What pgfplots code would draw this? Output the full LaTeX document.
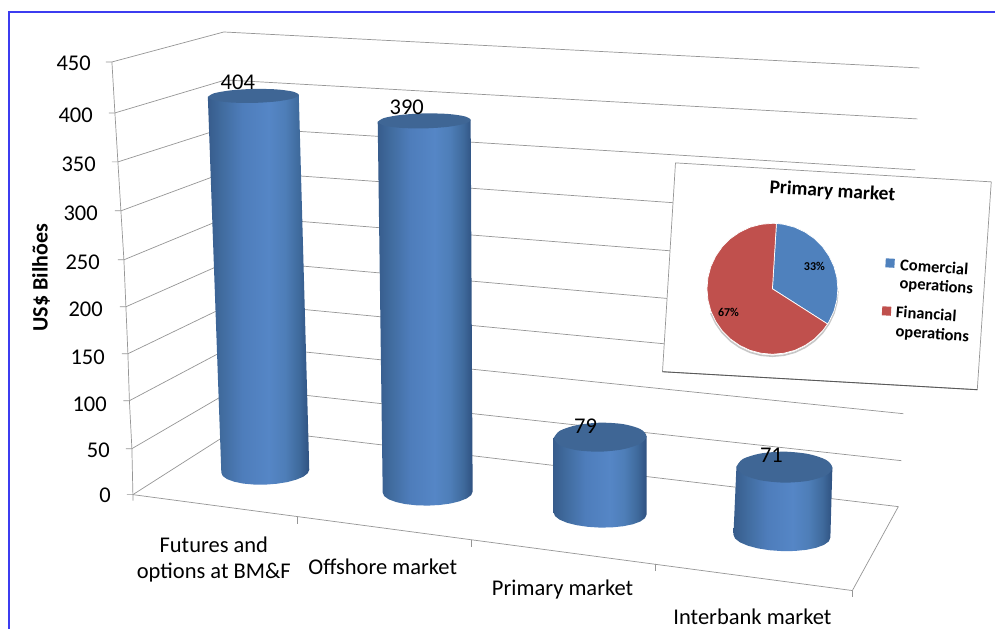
\documentclass[border=0pt]{standalone}
\usepackage{pgfplots}
\pgfplotsset{compat=1.18}
\usepackage{fontspec}
\setmainfont{Carlito}
\definecolor{gridc}{HTML}{969696}
\definecolor{frameb}{HTML}{3C3CF0}
\definecolor{captop}{HTML}{3F6695}
\definecolor{pieb}{HTML}{4F81BD}
\definecolor{pier}{HTML}{C0504D}
\definecolor{cA}{HTML}{375C8C}
\definecolor{cB}{HTML}{416C9F}
\definecolor{cC}{HTML}{4E7DBB}
\definecolor{cD}{HTML}{5586C6}
\definecolor{cE}{HTML}{4E7EB8}
\definecolor{cF}{HTML}{3F6A9C}
\definecolor{cG}{HTML}{2F5180}
\pgfdeclarehorizontalshading{cyl}{100bp}{color(0bp)=(cA); color(25bp)=(cA); color(32bp)=(cB); color(42bp)=(cC); color(55bp)=(cD); color(63bp)=(cE); color(70bp)=(cF); color(75bp)=(cG); color(100bp)=(cG)}
\newcommand{\fs}[1]{\fontsize{#1}{#1}\selectfont}
\pgfplotsset{grid line/.style={gridc,line width=0.7pt},
  cyl body/.style={shade,shading=cyl,draw=none},
  cyl top/.style={fill=captop,draw=none,smooth}}
\begin{document}
\begin{tikzpicture}
\begin{axis}[width=996pt,height=629pt,scale only axis,hide axis,clip=false,
  xmin=0,xmax=996,ymin=0,ymax=629,y dir=reverse]
% canvas and frame
\addplot[fill=white,draw=none,forget plot] coordinates {(0,0)(996,0)(996,629)(0,629)} --cycle;
\addplot[frameb,line width=1.5pt] coordinates {(9,629)(9,12)(996,12)};
% floor
\addplot[grid line] coordinates {(133,495)(853,591)(899,507)};
% gridlines: left wall, back wall (0,50,...,450)
\addplot[grid line] coordinates {(127,495)(133,495)(238,428)(899,507)};
\addplot[grid line] coordinates {(126,449)(132,449)(236.6,388)(902,461)};
\addplot[grid line] coordinates {(123.5,401)(129.5,401)(235.2,345)(904,414)};
\addplot[grid line] coordinates {(122,354)(128,354)(233.7,303)(906,367)};
\addplot[grid line] coordinates {(120,307)(126,307)(232.2,260)(908,320)};
\addplot[grid line] coordinates {(118,260)(124,260)(230.6,216)(910,270)};
\addplot[grid line] coordinates {(115,211)(121,211)(229,171)(913,220)};
\addplot[grid line] coordinates {(112,162)(118,162)(227.4,127)(916,170)};
\addplot[grid line] coordinates {(109,113)(115,113)(225.7,80)(918,119)};
\addplot[grid line] coordinates {(106,62)(112,62)(224,32)(920,68)};
% value axis and category ticks
\addplot[grid line] coordinates {(112,62)(115,113)(118,162)(121,211)(124,260)(126,307)(128,354)(129.5,401)(132,449)(133,495)(133,501)};
\addplot[grid line] coordinates {(298,517)(298,524)};
\addplot[grid line] coordinates {(472,540)(472,547)};
\addplot[grid line] coordinates {(656,564)(656,571)};
\addplot[grid line] coordinates {(853,591)(853,597)};
% cylinder 404
\addplot[cyl body] coordinates {(208,97)(221.5,473)(223,476.45)(227.4,479.55)(234.4,482.06)(243.5,483.95)(254.1,484.9)(265.5,485)(276.9,484.1)(287.5,482.45)(296.6,479.94)(303.6,477)(308,473.55)(309.5,470)(299,95)} --cycle;
\addplot[cyl top] coordinates {(208,97)(214.1,100.37)(230.75,102.56)(253.5,103)(276.25,101.56)(292.9,98.63)(299,95)(292.9,91.63)(276.25,89.44)(253.5,89)(230.75,90.44)(214.1,93.37)(208,97)};
% cylinder 390
\addplot[cyl body] coordinates {(378,122)(383,493)(384.5,496.48)(389,499.68)(396.2,502.35)(405.5,504.45)(416.3,505.63)(428,506)(439.7,505.37)(450.5,503.95)(459.8,501.65)(467,498.82)(471.5,495.52)(473,492)(471,120)} --cycle;
\addplot[cyl top] coordinates {(378,122)(384.2,125.62)(401.25,128)(424.5,128.5)(447.75,127)(464.8,123.88)(471,120)(464.8,116.38)(447.75,114)(424.5,113.5)(401.25,115)(384.2,118.12)(378,122)};
% cylinder 79
\addplot[cyl body] coordinates {(554,438.5)(554,513)(555.6,516.63)(560.2,520.13)(567.6,523.19)(577.25,525.6)(588.5,527.24)(600.5,528)(612.5,527.76)(623.75,526.6)(633.4,524.61)(640.8,521.87)(645.4,518.57)(647,515)(647,436.5)} --cycle;
\addplot[cyl top] coordinates {(554,438.5)(560.2,445.62)(577.25,450.56)(600.5,452)(623.75,449.56)(640.8,443.88)(647,436.5)(640.8,429.38)(623.75,424.44)(600.5,423)(577.25,425.44)(560.2,431.12)(554,438.5)};
% cylinder 71
\addplot[cyl body] coordinates {(737,467)(734,535)(735.65,538.95)(740.5,542.7)(748.2,546.04)(758.25,548.75)(769.94,550.61)(782.5,551.5)(795.06,551.39)(806.75,550.25)(816.8,548.16)(824.5,545.3)(829.35,541.85)(831,538)(833,468)} --cycle;
\addplot[cyl top] coordinates {(737,467)(743.4,474.82)(761,480.65)(785,483)(809,481.15)(826.6,475.68)(833,468)(826.6,460.18)(809,454.35)(785,452)(761,453.85)(743.4,459.32)(737,467)};
% inset panel
\addplot[fill=white,draw=gridc,line width=0.7pt] coordinates {(676,163)(992,182)(978,390)(663,372)} --cycle;
\addplot[black!65,line width=0.9pt] coordinates {(663,372)(978,390)};
% soft edge below the pie
\addplot[black!22,line width=1.6pt] coordinates {(838.5,291)(837.5,302.4)(834.6,313.4)(829.7,323.75)(823.2,333.1)(815.1,341.2)(805.75,347.7)(795.4,352.6)(784.4,355.5)(773,356.5)(761.6,355.5)(750.6,352.6)(740.25,347.7)(730.9,341.2)(722.8,333.1)(716.3,323.75)(711.4,313.4)};
% inset pie: Comercial 33, Financial 67
\addplot[fill=pieb,draw=white,line width=0.7pt] coordinates {(773,289)(777,223.6)(784.4,224.5)(795.4,227.4)(805.75,232.3)(815.1,238.8)(823.2,246.9)(829.7,256.25)(834.6,266.6)(837.5,277.6)(838.5,289)(837.5,300.4)(834.6,311.4)(829.7,321.75)(828.2,324.2)} --cycle;
\addplot[fill=pier,draw=white,line width=0.7pt] coordinates {(773,289)(828.2,324.2)(823.2,331.1)(815.1,339.2)(805.75,345.7)(795.4,350.6)(784.4,353.5)(773,354.5)(761.6,353.5)(750.6,350.6)(740.25,345.7)(730.9,339.2)(722.8,331.1)(716.3,321.75)(711.4,311.4)(708.5,300.4)(707.5,289)(708.5,277.6)(711.4,266.6)(716.3,256.25)(722.8,246.9)(730.9,238.8)(740.25,232.3)(750.6,227.4)(761.6,224.5)(773,223.5)(777,223.6)} --cycle;
% legend keys
\addplot[fill=pieb,draw=none] coordinates {(886.5,258.5)(895.5,259)(895,268)(886,267.5)} --cycle;
\addplot[fill=pier,draw=none] coordinates {(883,306.5)(892,307)(891.5,316)(882.5,315.5)} --cycle;
% value labels
\node[font=\fs{22.5}] at (axis cs:238,82) {404};
\node[font=\fs{22.5}] at (axis cs:407,107) {390};
\node[font=\fs{22.5}] at (axis cs:586,427) {79};
\node[font=\fs{22.5}] at (axis cs:772,456) {71};
% value axis labels
\node[font=\fs{22.5},anchor=east,inner sep=0pt] at (axis cs:91,63) {450};
\node[font=\fs{22.5},anchor=east,inner sep=0pt] at (axis cs:93,115) {400};
\node[font=\fs{22.5},anchor=east,inner sep=0pt] at (axis cs:96,164) {350};
\node[font=\fs{22.5},anchor=east,inner sep=0pt] at (axis cs:98,213) {300};
\node[font=\fs{22.5},anchor=east,inner sep=0pt] at (axis cs:100,262) {250};
\node[font=\fs{22.5},anchor=east,inner sep=0pt] at (axis cs:103,310) {200};
\node[font=\fs{22.5},anchor=east,inner sep=0pt] at (axis cs:105,358) {150};
\node[font=\fs{22.5},anchor=east,inner sep=0pt] at (axis cs:107,405) {100};
\node[font=\fs{22.5},anchor=east,inner sep=0pt] at (axis cs:110,451) {50};
\node[font=\fs{22.5},anchor=east,inner sep=0pt] at (axis cs:111,496) {0};
\node[font=\fs{22}\bfseries,rotate=90] at (axis cs:41,278) {US\$ Bilhões};
% category labels
\node[font=\fs{22.5}] at (axis cs:214,545) {Futures and};
\node[font=\fs{22.5}] at (axis cs:214,573) {options at BM\&F};
\node[font=\fs{22.5}] at (axis cs:383,567) {Offshore market};
\node[font=\fs{22.5}] at (axis cs:563,590) {Primary market};
\node[font=\fs{22.5}] at (axis cs:753,617) {Interbank market};
% inset text
\node[font=\fs{19.5}\bfseries,rotate=-3.5] at (axis cs:833,192) {Primary market};
\node[font=\fs{12}\bfseries] at (axis cs:815,267) {33\%};
\node[font=\fs{12}\bfseries] at (axis cs:729,313) {67\%};
\node[font=\fs{16.5}\bfseries,rotate=-4] at (axis cs:935,267) {Comercial};
\node[font=\fs{16.5}\bfseries,rotate=-4] at (axis cs:937,287) {operations};
\node[font=\fs{16.5}\bfseries,rotate=-4] at (axis cs:927,314) {Financial};
\node[font=\fs{16.5}\bfseries,rotate=-4] at (axis cs:933,335) {operations};
\end{axis}
\end{tikzpicture}
\end{document}
